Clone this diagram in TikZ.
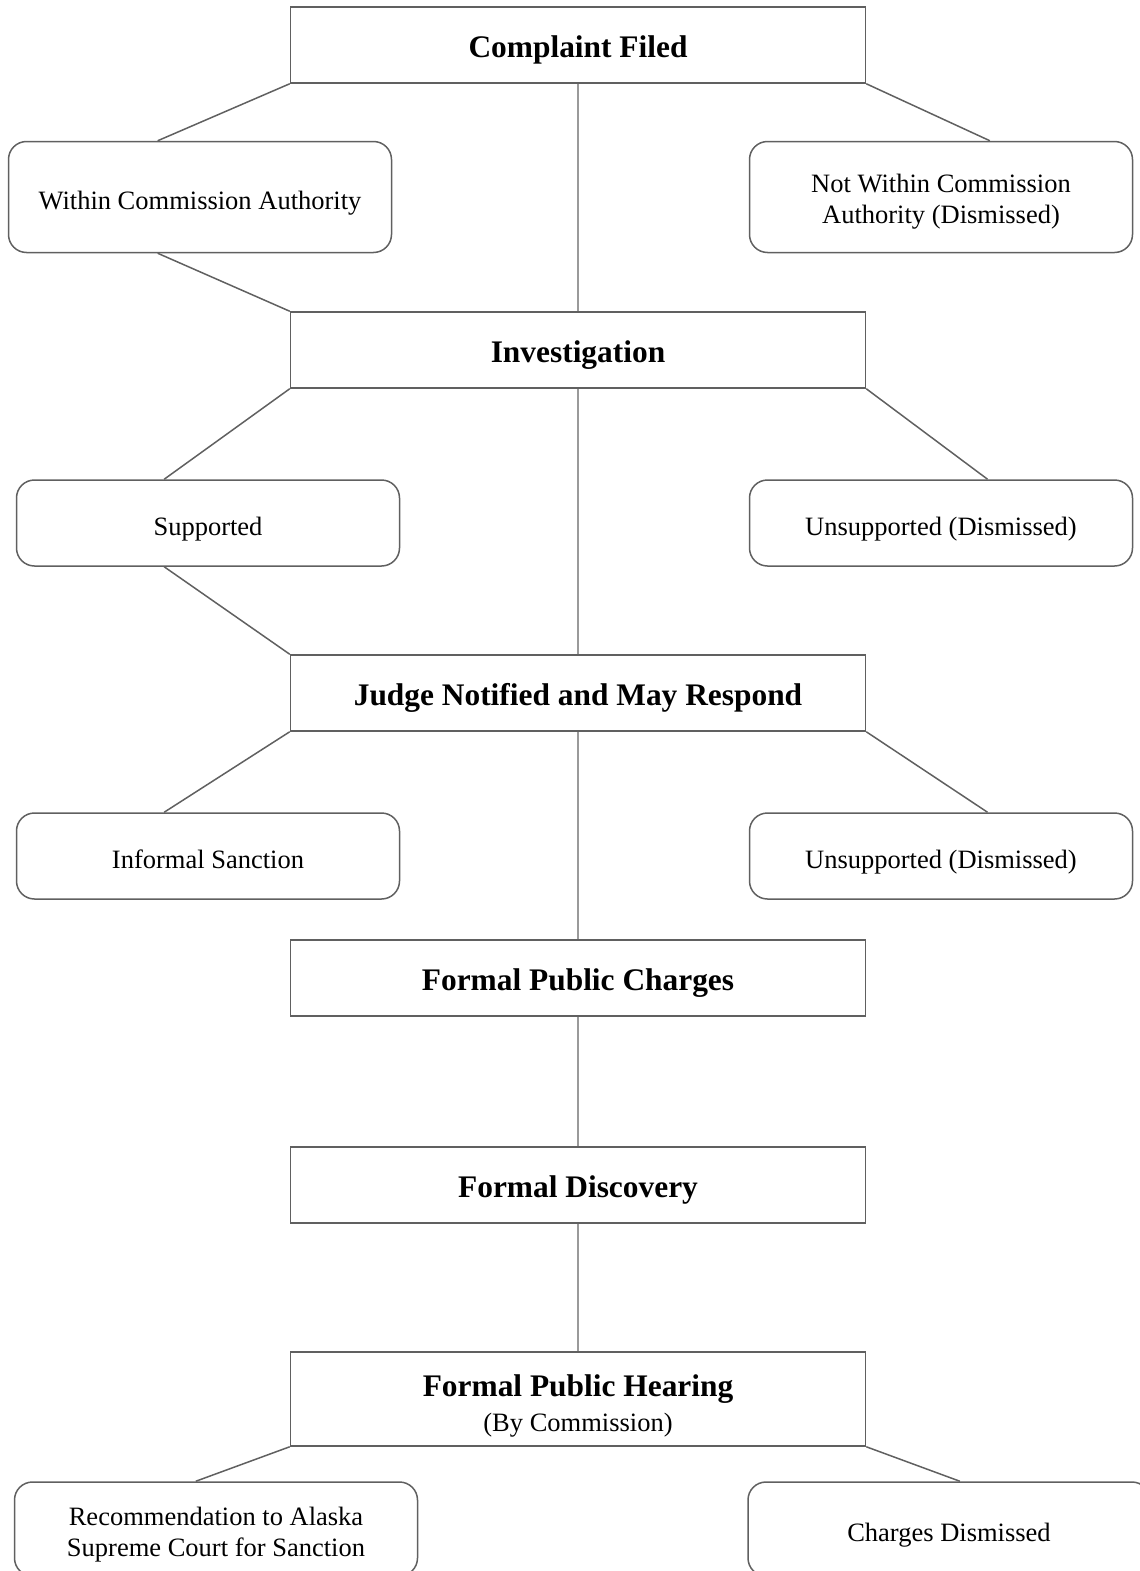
\documentclass[tikz,border=0pt]{standalone}
\usepackage{fontspec}
\setmainfont{Liberation Serif}
\usepackage{tikz}
\usetikzlibrary{calc}
\definecolor{linegray}{HTML}{606060}
\definecolor{trunkgray}{HTML}{9A9A9A}
\newcommand{\headfont}{\fontsize{31.4}{38}\selectfont\bfseries}
\newcommand{\bodyfont}{\fontsize{26.5}{30.5}\selectfont}
\tikzset{
	boxtext/.style={execute at begin node={\rule{0pt}{#1}}, execute at end node={\rule[-6pt]{0pt}{6pt}}},
	twolines/.style={text height=#1, text depth=6pt},
	stage/.style={draw=linegray, line width=1.5pt, minimum width=575pt, minimum height=76pt, inner sep=0pt, align=center, font=\headfont, boxtext=31pt},
	outcome/.style={draw=linegray, line width=1.5pt, rounded corners=18pt, minimum width=383pt, minimum height=86pt, inner sep=0pt, align=center, font=\bodyfont, boxtext=30pt},
	link/.style={linegray, line width=1.5pt},
	trunk/.style={trunkgray, line width=1.5pt}
}
\begin{document}
\begin{tikzpicture}[x=1pt, y=-1pt]
		\useasboundingbox (0,0) rectangle (1140,1571);
		% main stages down the middle
		\node[stage] (filed) at (578,45) {Complaint Filed};
		\node[stage] (invest) at (578,350) {Investigation};
		\node[stage] (judge) at (578,693) {Judge Notified and May Respond};
		\node[stage] (charges) at (578,978) {Formal Public Charges};
		\node[stage] (discovery) at (578,1185) {Formal Discovery};
		\node[stage, minimum height=94pt, twolines=71pt] (hearing) at (578,1399) {{\headfont Formal Public Hearing}\\[-3pt]{\normalfont\bodyfont (By Commission)}};

		% outcomes to the sides
		\node[outcome, minimum height=111pt] (within) at (200,197) {Within Commission Authority};
		\node[outcome, minimum height=111pt, twolines=58pt] (notwithin) at (941,197) {Not Within Commission\\Authority (Dismissed)};
		\node[outcome] (supported) at (208,523) {Supported};
		\node[outcome] (unsupported) at (941,523) {Unsupported (Dismissed)};
		\node[outcome] (informal) at (208,856) {Informal Sanction};
		\node[outcome] (unsupportedb) at (941,856) {Unsupported (Dismissed)};
		\node[outcome, minimum width=403pt, minimum height=94pt, twolines=60pt] (recommend) at (216,1529) {Recommendation to Alaska\\Supreme Court for Sanction};
		\node[outcome, minimum width=402pt, minimum height=94pt] (dismissed) at (949,1529) {Charges Dismissed};

		% trunk
		\draw[trunk] (filed.south) -- (invest.north);
		\draw[trunk] (invest.south) -- (judge.north);
		\draw[trunk] (judge.south) -- (charges.north);
		\draw[trunk] (charges.south) -- (discovery.north);
		\draw[trunk] (discovery.south) -- (hearing.north);

		% branches
		\draw[link] (filed.south west) -- ($(within.north west)!0.39!(within.north east)$);
		\draw[link] (filed.south east) -- ($(notwithin.north west)!0.627!(notwithin.north east)$);
		\draw[link] ($(within.south west)!0.39!(within.south east)$) -- (invest.north west);
		\draw[link] (invest.south west) -- ($(supported.north west)!0.386!(supported.north east)$);
		\draw[link] (invest.south east) -- ($(unsupported.north west)!0.621!(unsupported.north east)$);
		\draw[link] ($(supported.south west)!0.386!(supported.south east)$) -- (judge.north west);
		\draw[link] (judge.south west) -- ($(informal.north west)!0.386!(informal.north east)$);
		\draw[link] (judge.south east) -- ($(unsupportedb.north west)!0.621!(unsupportedb.north east)$);
		\draw[link] (hearing.south west) -- ($(recommend.north west)!0.45!(recommend.north east)$);
		\draw[link] (hearing.south east) -- ($(dismissed.north west)!0.527!(dismissed.north east)$);
	\end{tikzpicture}
\end{document}
